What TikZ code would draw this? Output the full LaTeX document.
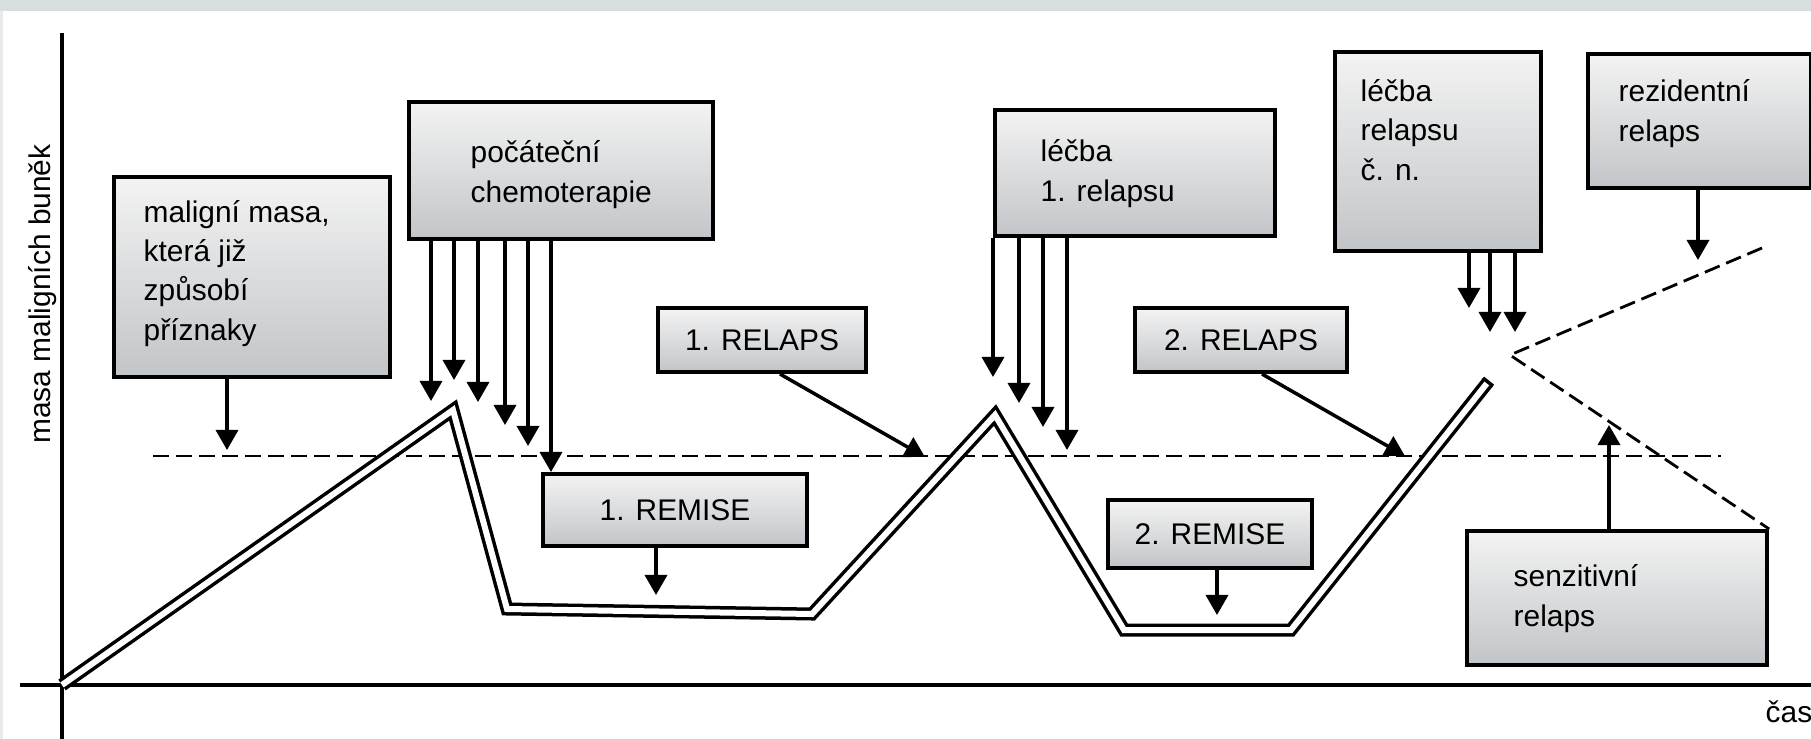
\documentclass[tikz,border=0pt]{standalone}
\usepackage{fontspec}
\usepackage{tikz}
\usetikzlibrary{arrows.meta,positioning,calc}
\newfontfamily\diagfont{Liberation Sans}
\definecolor{bandgray}{RGB}{214,222,223}
\definecolor{boxtop}{RGB}{243,243,243}
\definecolor{boxbot}{RGB}{194,197,200}
\tikzset{>=latex}
\tikzset{
  lbl/.style={font=\diagfont\fontsize{8.5pt}{11.1pt}\selectfont, inner sep=0pt},
  % multi-line text sits on the baseline of its last line
  boxtext/.style={lbl, align=left, anchor=base west},
  bigbox/.style={draw, line width=0.04cm, top color=boxtop, bottom color=boxbot, inner sep=0pt, anchor=north west},
  smallbox/.style={lbl, draw, line width=0.04cm, top color=boxtop, bottom color=boxbot},
  arr/.style={-{Triangle[width=0.22cm,length=0.2cm]}, line width=0.035cm},
  dashline/.style={line width=0.028cm, dash pattern=on 0.16cm off 0.07cm},
  trajectory/.style={double, draw=black, line width=0.035cm, double distance=0.06cm, line join=miter},
  axisline/.style={line width=0.035cm}
}
\begin{document}
\begin{tikzpicture}[x=0.01cm, y=-0.01cm]
  \useasboundingbox (0,0) rectangle (1811,739);
  \fill[bandgray] (0,0) rectangle (1811,11);
  \fill[bandgray!60] (0,11) rectangle (3,739);

  % axes
  \draw[axisline] (62,33) -- (62,739);
  \draw[axisline] (20,685) -- (1811,685);
  \node[lbl, rotate=90, anchor=base] (ylab) at (51,294) {masa maligních buněk};
  \node[lbl, anchor=base west] (xlab) at (1765,722) {čas};

  % threshold of symptoms
  \draw[dashline] (153,456) -- (1721,456);

  % tumour mass over time
  \draw[trajectory] (62,685) -- (453,410) -- (507,609) -- (812,614)
    -- (995,415) -- (1124,630) -- (1291,630) -- (1488,382);
  \draw[line width=0.035cm] (1483,378) -- (1493,386); % closed end
  \coordinate (fork) at (1510,355);

  % big boxes
  \node[bigbox, minimum width=2.76cm, minimum height=2cm] (malig) at (112,175) {};
  \node[boxtext] (maligtxt) at (143,340) {maligní masa,\\která již\\způsobí\\příznaky};
  \node[bigbox, minimum width=3.04cm, minimum height=1.37cm] (chemo) at (407,100) {};
  \node[boxtext] (chemotxt) at (470,202) {počáteční\\chemoterapie};
  \node[bigbox, minimum width=2.8cm, minimum height=1.26cm] (lecbaA) at (993,108) {};
  \node[boxtext] (lecbaAtxt) at (1040,201) {léčba\\1. relapsu};
  \node[bigbox, minimum width=2.06cm, minimum height=1.99cm] (lecbaN) at (1333,50) {};
  \node[boxtext] (lecbaNtxt) at (1360,180) {léčba\\relapsu\\č. n.};
  \node[bigbox, minimum width=2.23cm, minimum height=1.34cm] (rezid) at (1586,52) {};
  \node[boxtext] (rezidtxt) at (1618,141) {rezidentní\\relaps};
  \node[bigbox, minimum width=3cm, minimum height=1.34cm] (senz) at (1465,529) {};
  \node[boxtext] (senztxt) at (1513,626) {senzitivní\\relaps};

  % small boxes
  \node[smallbox, minimum width=2.07cm, minimum height=0.64cm] (relapsA) at (762,340) {1. RELAPS};
  \node[smallbox, minimum width=2.64cm, minimum height=0.71cm] (remiseA) at (675,510) {1. REMISE};
  \node[smallbox, minimum width=2.12cm, minimum height=0.64cm] (relapsB) at (1241,340) {2. RELAPS};
  \node[smallbox, minimum width=2.04cm, minimum height=0.67cm] (remiseB) at (1210,534) {2. REMISE};

  % arrows
  \coordinate (mtip) at (227,450);
  \draw[arr] (malig.south -| mtip) -- (mtip);
  \foreach \x/\t [count=\i] in {431/401,454/380,478/402,505/425,528/446,551/472}
  {
    \coordinate (ct\i) at (\x,\t);
    \draw[arr] (chemo.south -| ct\i) -- (ct\i);
  }
  \foreach \x/\t [count=\i] in {993/377,1019/403,1043/427,1067/450}
  {
    \coordinate (lt\i) at (\x,\t);
    \draw[arr] (lecbaA.south -| lt\i) -- (lt\i);
  }
  \foreach \x/\t [count=\i] in {1469/308,1490/332,1515/332}
  {
    \coordinate (nt\i) at (\x,\t);
    \draw[arr] (lecbaN.south -| nt\i) -- (nt\i);
  }
  \coordinate (r1tip) at (925,457);
  \draw[arr] ([xshift=0.18cm]relapsA.south) -- (r1tip);
  \coordinate (r2tip) at (1405,456);
  \draw[arr] ([xshift=0.21cm]relapsB.south) -- (r2tip);
  \coordinate (m1tip) at (656,595);
  \draw[arr] (remiseA.south -| m1tip) -- (m1tip);
  \coordinate (m2tip) at (1217,615);
  \draw[arr] (remiseB.south -| m2tip) -- (m2tip);
  \coordinate (rztip) at (1698,260);
  \draw[arr] (rezid.south -| rztip) -- (rztip);
  \coordinate (sztip) at (1609,425);
  \draw[arr] (senz.north -| sztip) -- (sztip);

  % resistant and sensitive branch
  \draw[dashline] (1762,248) -- (fork) -- (senz.north east);
\end{tikzpicture}
\end{document}
